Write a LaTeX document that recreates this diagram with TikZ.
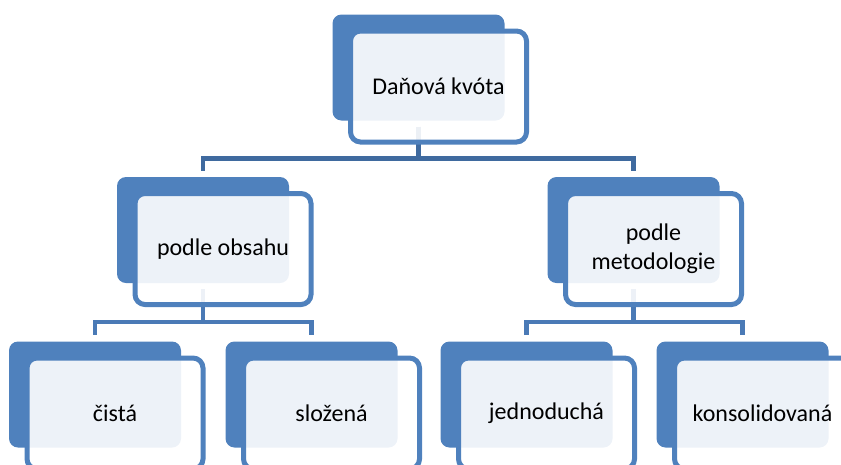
\documentclass[tikz,border=0pt]{standalone}
\usepackage{fontspec}
\setmainfont{Carlito}
\usepackage{xcolor}
\usetikzlibrary{positioning,backgrounds}
\definecolor{boxblue}{HTML}{4F81BD}
\definecolor{linktop}{HTML}{3F6A9F}
\definecolor{linkmid}{HTML}{4A7AB6}

\begin{document}
\begin{tikzpicture}[x=1pt,y=-1pt,back/.style={rectangle, fill=boxblue, rounded corners=9pt, minimum width=172pt, minimum height=106pt, inner sep=0pt},
  front/.style={rectangle, draw=boxblue, line width=5pt, fill=white, fill opacity=0.9, text opacity=1, rounded corners=10pt, minimum width=176pt, minimum height=111pt, align=center, inner sep=2pt, font=\fontsize{24}{29}\selectfont},
  link/.style={line width=4.5pt, shorten <=6pt, shorten >=6pt}]
    \useasboundingbox (0,0) rectangle (841,464);
    \clip (0,0) rectangle (841,464);
    % top level
    \node [back] (kvota-b) at (418.5,67.5) {};
    \node [front] (kvota) at ([shift={(20,19)}]kvota-b.center) {Daňová kvóta};
    % second level
    \node [back] (obsah-b) at (203,230) {};
    \node [front] (obsah) at ([shift={(20,19)}]obsah-b.center) {podle obsahu};
    \node [back] (metod-b) at (633.5,230) {};
    \node [front] (metod) at ([shift={(20,19)}]metod-b.center) {podle\\metodologie};
    % third level
    \node [back] (cista-b) at (95,394.5) {};
    \node [front] (cista) at ([shift={(20,19)}]cista-b.center) {čistá};
    \node [back] (slozena-b) at (311.5,394.5) {};
    \node [front] (slozena) at ([shift={(20,19)}]slozena-b.center) {složená};
    \node [back] (jedno-b) at (526.5,394.5) {};
    \node [front] (jedno) at ([shift={(20,19)}]jedno-b.center) {jednoduchá};
    \node [back] (konso-b) at (742.5,394.5) {};
    \node [front] (konso) at ([shift={(20,19)}]konso-b.center) {konsolidovaná};
    \begin{pgfonlayer}{background}
    \draw [link, linktop] (kvota-b.south) -- ++(0,38) -| (obsah-b.north);
    \draw [link, linktop] (kvota-b.south) -- ++(0,38) -| (metod-b.north);
    \draw [link, linkmid] (obsah-b.south) -- ++(0,39) -| (cista-b.north);
    \draw [link, linkmid] (obsah-b.south) -- ++(0,39) -| (slozena-b.north);
    \draw [link, linkmid] (metod-b.south) -- ++(0,39) -| (jedno-b.north);
    \draw [link, linkmid] (metod-b.south) -- ++(0,39) -| (konso-b.north);
    \end{pgfonlayer}
\end{tikzpicture}
\end{document}
